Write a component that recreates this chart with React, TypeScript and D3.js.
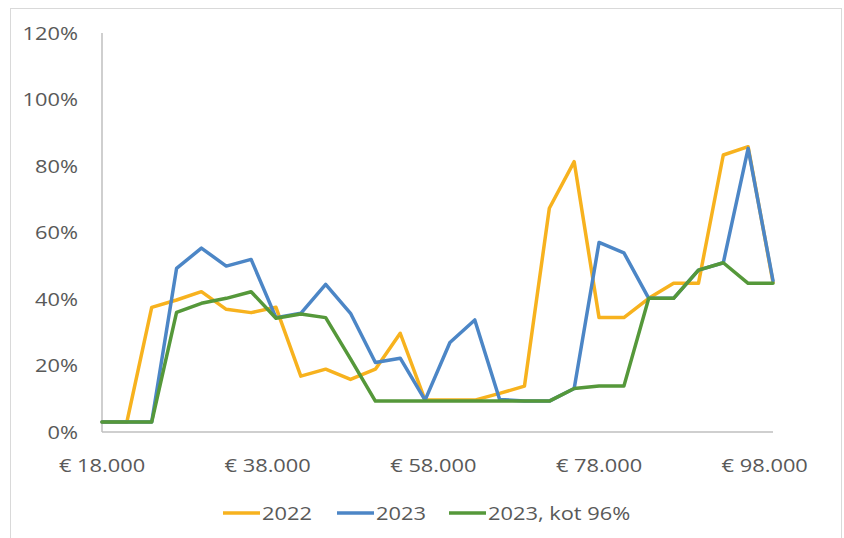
import React, { useEffect, useRef } from "react";
import * as d3 from "d3";

// x values: income steps of 3000 euro
const incomes: number[] = [
  18000, 21000, 24000, 27000, 30000, 33000, 36000, 39000, 42000, 45000,
  48000, 51000, 54000, 57000, 60000, 63000, 66000, 69000, 72000, 75000,
  78000, 81000, 84000, 87000, 90000, 93000, 96000, 99000,
];

const values2022: number[] = [
  3, 3, 37.5, 39.7, 42.2, 36.9, 35.9, 37.5, 16.8, 18.9, 15.8, 18.9, 29.7, 9.6,
  9.6, 9.6, 11.6, 13.8, 67.3, 81.3, 34.4, 34.4, 40.2, 44.7, 44.7, 83.3, 85.8,
  45,
];

const values2023: number[] = [
  3, 3, 3, 49.2, 55.3, 49.9, 51.9, 34.4, 35.7, 44.4, 35.7, 20.9, 22.2, 9.6,
  26.9, 33.7, 9.8, 9.3, 9.3, 13.1, 57.0, 53.9, 40.2, 40.2, 48.7, 50.9, 85.3,
  45.5,
];

const values2023kot: number[] = [
  3, 3, 3, 36.0, 38.7, 40.2, 42.2, 34.2, 35.5, 34.4, 22, 9.3, 9.3, 9.3, 9.3,
  9.3, 9.3, 9.3, 9.3, 13.1, 13.8, 13.8, 40.2, 40.2, 48.7, 50.9, 44.7, 44.7,
];

const xTicks: number[] = [18000, 38000, 58000, 78000, 98000];
const yTicks: number[] = [0, 20, 40, 60, 80, 100, 120];

const seriesNames: string[] = ["2022", "2023", "2023, kot 96%"];
const seriesColors: string[] = ["#F7B21E", "#4C86C6", "#55983A"];

const App: React.FC = () => {
  const svgRef = useRef<SVGSVGElement | null>(null);

  useEffect(() => {
    const width = 844;
    const height = 538;
    const margin = { top: 33, right: 71, bottom: 106, left: 102 };
    const innerWidth = width - margin.left - margin.right;
    const innerHeight = height - margin.top - margin.bottom;
    const font = "'Open Sans', sans-serif";
    const textColor = "#595959";
    const fontSize = 18.5;
    const stretch = 1.18; // text in the picture is a bit wide

    const svg = d3.select(svgRef.current);
    svg.selectAll("*").remove();

    // chart frame
    svg
      .append("rect")
      .attr("x", 10.5)
      .attr("y", 8.5)
      .attr("width", 831)
      .attr("height", 540)
      .attr("fill", "#fff")
      .attr("stroke", "#D9D9D9")
      .attr("stroke-width", 1);

    const g = svg
      .append("g")
      .attr("transform", `translate(${margin.left},${margin.top})`);

    const x = d3.scaleLinear().domain([18000, 99000]).range([0, innerWidth]);
    const y = d3.scaleLinear().domain([0, 120]).range([innerHeight, 0]);

    // Axes lines
    g.append("line")
      .attr("x1", 0)
      .attr("x2", 0)
      .attr("y1", 0)
      .attr("y2", innerHeight)
      .attr("stroke", "#BFBFBF")
      .attr("stroke-width", 1.5);

    g.append("line")
      .attr("x1", 0)
      .attr("x2", innerWidth)
      .attr("y1", innerHeight)
      .attr("y2", innerHeight)
      .attr("stroke", "#BFBFBF")
      .attr("stroke-width", 1.5);

    // Y tick labels
    g.selectAll(".ylab")
      .data(yTicks)
      .enter()
      .append("text")
      .attr("transform", (d) => `translate(-24,${y(d)}) scale(${stretch},1)`)
      .attr("dy", "0.36em")
      .attr("text-anchor", "end")
      .attr("font-family", font)
      .attr("font-size", fontSize)
      .attr("fill", textColor)
      .text((d) => `${d}%`);

    // X tick labels
    const fmt = d3.format(",");
    g.selectAll(".xlab")
      .data(xTicks)
      .enter()
      .append("text")
      .attr(
        "transform",
        (d) => `translate(${x(d)},${innerHeight + 40}) scale(${stretch},1)`
      )
      .attr("text-anchor", "middle")
      .attr("font-family", font)
      .attr("font-size", fontSize)
      .attr("fill", textColor)
      .text((d) => `€ ${fmt(d).replace(/,/g, ".")}`);

    // Lines
    const allSeries = [values2022, values2023, values2023kot];
    const line = d3
      .line<number>()
      .x((_, i) => x(incomes[i]))
      .y((d) => y(d));

    allSeries.forEach((vals, k) => {
      g.append("path")
        .datum(vals)
        .attr("fill", "none")
        .attr("stroke", seriesColors[k])
        .attr("stroke-width", 3.5)
        .attr("stroke-linejoin", "round")
        .attr("stroke-linecap", "round")
        .attr("d", line);
    });

    // Legend
    const legendX = [223, 337, 449];
    const legendY = 513;
    const legend = svg.append("g");
    seriesNames.forEach((name, k) => {
      legend
        .append("line")
        .attr("x1", legendX[k])
        .attr("x2", legendX[k] + 37)
        .attr("y1", legendY)
        .attr("y2", legendY)
        .attr("stroke", seriesColors[k])
        .attr("stroke-width", 3.5);
      legend
        .append("text")
        .attr(
          "transform",
          `translate(${legendX[k] + 39},${legendY}) scale(${stretch},1)`
        )
        .attr("dy", "0.36em")
        .attr("font-family", font)
        .attr("font-size", fontSize)
        .attr("fill", textColor)
        .text(name);
    });
  }, []);

  return (
    <svg
      ref={svgRef}
      width={844}
      height={538}
      style={{ position: "absolute", left: 0, top: 0, background: "#fff" }}
    />
  );
};

export default App;
